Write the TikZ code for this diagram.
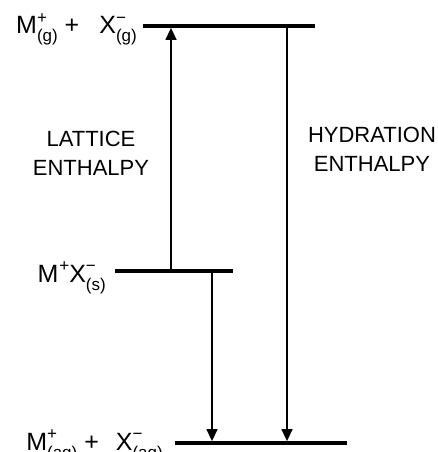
\documentclass[tikz,border=0pt]{standalone}
\usepackage{fontspec}
\setmainfont{Liberation Sans}
\usetikzlibrary{arrows.meta}
% small raised/lowered parts of the ion labels
\newcommand{\supsmall}[1]{\raisebox{10.5pt}{\fontsize{17}{17}\selectfont #1}}
\newcommand{\subsmall}[1]{\raisebox{-8pt}{\fontsize{17}{17}\selectfont #1}}
\newcommand{\ionlbl}[3]{#1\rlap{\supsmall{#2}}\subsmall{#3}}

\begin{document}
\begin{tikzpicture}[
  x=1pt, y=-1pt,
  level/.style={line width=3.9pt},
  change/.style={line width=1.4pt, -{Triangle[width=11pt,length=12pt]},
                 shorten >=1.9pt},
  species/.style={font=\fontsize{25}{30}\selectfont, inner sep=0pt},
  enthalpy/.style={font=\fontsize{22}{29}\selectfont, align=center},
]
\useasboundingbox (0,0) rectangle (438,452);

% energy levels
\coordinate (gas-l)   at (143,26);
\coordinate (gas-r)   at (315,26);
\coordinate (solid-l) at (115,271);
\coordinate (solid-r) at (233,271);
\coordinate (aq-l)    at (175,443);
\coordinate (aq-r)    at (347,443);
\foreach \a/\b in {gas-l/gas-r, solid-l/solid-r, aq-l/aq-r}
  \draw[level] (\a) -- (\b);

% ends of the arrows on the levels
\coordinate (lat-a) at (171,271);
\coordinate (lat-b) at (171,26);
\coordinate (hyd-a) at (287,26);
\coordinate (hyd-b) at (287,443);
\coordinate (sol-a) at (212,271);
\coordinate (sol-b) at (212,443);
\foreach \a/\b in {lat-a/lat-b, hyd-a/hyd-b, sol-a/sol-b}
  \draw[change] (\a) -- (\b);

\node[species, anchor=base east] (gas)   at (137,34)
  {\ionlbl{M}{+}{(g)} +\hspace{20pt}\ionlbl{X}{−}{(g)}};
\node[species, anchor=base east] (solid) at (106,282)
  {M\hspace{1pt}\supsmall{+}\ionlbl{X}{−}{(s)}};
\node[species, anchor=base east] (aq)    at (163,450)
  {\ionlbl{M}{+}{(aq)} +\hspace{17pt}\ionlbl{X}{−}{(aq)}};

\node[enthalpy] (lattice)   at (91,153)  {LATTICE\\ENTHALPY};
\node[enthalpy] (hydration) at (372,149) {HYDRATION\\ENTHALPY};
\end{tikzpicture}
\end{document}
